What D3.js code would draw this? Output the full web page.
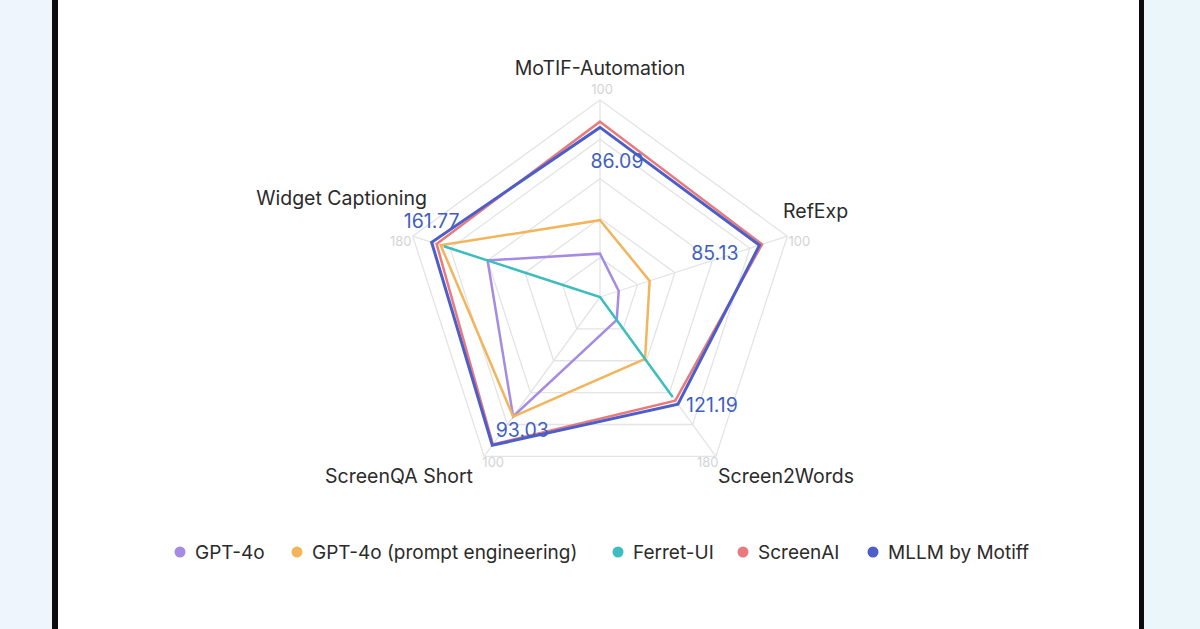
<!DOCTYPE html>
<html><head><meta charset="utf-8">
<script src="https://cdn.jsdelivr.net/npm/d3@7"></script>
<style>
html,body{margin:0;padding:0;background:#fff;}
svg{display:block;font-family:Inter,"Noto Sans",sans-serif;}
</style></head>
<body><svg id="c" width="1200" height="629"></svg>
<script>
const indicators = ["MoTIF-Automation","RefExp","Screen2Words","ScreenQA Short","Widget Captioning"];
const indicatorMax = [100,100,180,100,180];
const seriesNames = ["GPT-4o","GPT-4o (prompt engineering)","Ferret-UI","ScreenAI","MLLM by Motiff"];
const gpt4o = [22, 10, 26, 75, 108];
const gpt4oPrompt = [39, 26.5, 70, 75, 153];
const ferretUI = [0, 0, 113, 0, 150];
const screenAI = [89, 86.5, 117, 92.5, 157];
const motiff = [86.09, 85.13, 121.19, 93.03, 161.77];
const colors = ["#a58be3","#f2b55c","#3dbdbd","#e87a7e","#4d5ec8"];

const svg = d3.select("#c");
// frame
svg.append("rect").attr("x",0).attr("y",0).attr("width",52).attr("height",629).attr("fill","#eef5fc");
svg.append("rect").attr("x",52).attr("y",0).attr("width",6).attr("height",629).attr("fill","#0c0c10");
svg.append("rect").attr("x",1139).attr("y",0).attr("width",5).attr("height",629).attr("fill","#0c0c10");
svg.append("rect").attr("x",1144).attr("y",0).attr("width",56).attr("height",629).attr("fill","#eaf6f9");

const cx = 600, cy = 297, R = 197;
const n = indicators.length;
const angle = i => (-90 + 360 / n * i) * Math.PI / 180;
const scales = indicatorMax.map(m => d3.scaleLinear().domain([0, m]).range([0, R]));
const pt = (i, v) => [cx + scales[i](v) * Math.cos(angle(i)), cy + scales[i](v) * Math.sin(angle(i))];

const g = svg.append("g");
// split rings
d3.range(1, 6).forEach(k => {
  const pts = d3.range(n).map(i => pt(i, indicatorMax[i] * k / 5));
  g.append("polygon").attr("points", pts.map(p => p.join(",")).join(" "))
    .attr("fill","none").attr("stroke","#e4e4e6").attr("stroke-width",1.3);
});
// axis lines
d3.range(n).forEach(i => {
  const p = pt(i, indicatorMax[i]);
  g.append("line").attr("x1",cx).attr("y1",cy).attr("x2",p[0]).attr("y2",p[1])
    .attr("stroke","#e4e4e6").attr("stroke-width",1.3);
});
// max labels
const maxLabelOff = [[2,-6],[12,10],[-8,11],[9,11],[-12,10]];
d3.range(n).forEach(i => {
  const p = pt(i, indicatorMax[i]);
  g.append("text").attr("x",p[0]+maxLabelOff[i][0]).attr("y",p[1]+maxLabelOff[i][1])
    .attr("text-anchor","middle").attr("font-size",13).attr("fill","#d4d4d4").text(indicatorMax[i]);
});
// indicator names
const namePos = [[600,75,"middle"],[783,218,"start"],[718,483,"start"],[399,483,"middle"],[427,205,"end"]];
indicators.forEach((name,i) => {
  g.append("text").attr("x",namePos[i][0]).attr("y",namePos[i][1]).attr("text-anchor",namePos[i][2])
    .attr("font-size",19.5).attr("fill","#2b2b2b").text(name);
});

// series
const allSeries = [gpt4o, gpt4oPrompt, ferretUI, screenAI, motiff];
const line = d3.line().curve(d3.curveLinearClosed);
allSeries.forEach((vals, s) => {
  g.append("path").attr("d", line(vals.map((v,i) => pt(i,v))))
    .attr("fill","none").attr("stroke", colors[s]).attr("stroke-width", s===4?3:2.5)
    .attr("stroke-linejoin","miter");
});
// data labels for Motiff
const labOff = [[17,41],[-21,15],[34,8],[30,-8],[0,-14]];
const labAnchor = ["middle","end","middle","middle","middle"];
motiff.forEach((v,i) => {
  const p = pt(i,v);
  g.append("text").attr("x", p[0]+labOff[i][0]).attr("y", p[1]+labOff[i][1])
    .attr("text-anchor", labAnchor[i]).attr("font-size",19.5).attr("fill","#3f5fbf").text(v.toFixed(2));
});

// legend
const legendX = [180, 297, 618, 743, 873];
const lg = svg.append("g");
seriesNames.forEach((name,s) => {
  lg.append("circle").attr("cx",legendX[s]).attr("cy",552).attr("r",5.5).attr("fill",colors[s]);
  lg.append("text").attr("x",legendX[s]+15).attr("y",559).attr("font-size",19).attr("fill","#2b2b2b").text(name);
});
</script></body></html>
